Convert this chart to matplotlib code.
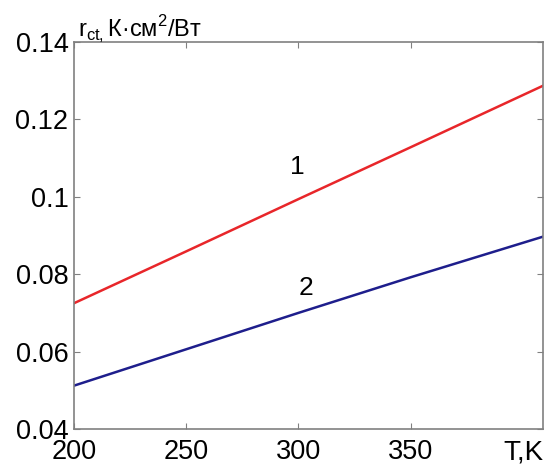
import matplotlib
matplotlib.use("Agg")
import matplotlib.pyplot as plt

plt.rcParams["font.family"] = ["Liberation Sans", "DejaVu Sans"]
plt.rcParams["mathtext.fontset"] = "custom"
plt.rcParams["mathtext.rm"] = "Liberation Sans"

temperature = [200, 250, 300, 350, 409]
r_ct_1 = [0.0725, 0.0859, 0.0994, 0.1128, 0.1287]
r_ct_2 = [0.0512, 0.0606, 0.0700, 0.0792, 0.0897]

x_ticks = [200, 250, 300, 350]
y_ticks = [0.04, 0.06, 0.08, 0.1, 0.12, 0.14]
y_tick_labels = ["0.04", "0.06", "0.08", "0.1", "0.12", "0.14"]

fig = plt.figure(figsize=(5.45, 4.67), dpi=100)
ax = fig.add_axes([74 / 545, 1 - 429 / 467, 469 / 545, 387 / 467])

ax.plot(temperature, r_ct_1, color="#e8262a", lw=1.8)
ax.plot(temperature, r_ct_2, color="#1e1e8c", lw=1.8)

ax.text(299.5, 0.1078, "1", fontsize=19, ha="center", va="center")
ax.text(303.5, 0.0765, "2", fontsize=19, ha="center", va="center")

ax.set_xlim(200, 409)
ax.set_ylim(0.04, 0.14)
ax.set_xticks(x_ticks)
ax.set_yticks(y_ticks)
ax.set_yticklabels(y_tick_labels)
ax.tick_params(direction="in", length=4, color="#808080", labelsize=19.5,
               top=True, right=True)
ax.tick_params(axis="y", pad=4)
ax.tick_params(axis="x", pad=7)
for s in ax.spines.values():
    s.set_color("#808080")
    s.set_linewidth(1.2)

ax.text(0.008, 1.013, r"r$_{\rm ct,}$К·см$^{\rm 2}$/Вт", transform=ax.transAxes,
        fontsize=17, ha="left", va="baseline")
ax.text(1.0, -0.028, "T,K", transform=ax.transAxes, fontsize=20,
        ha="right", va="top")

fig.savefig("out.png", dpi=100)
